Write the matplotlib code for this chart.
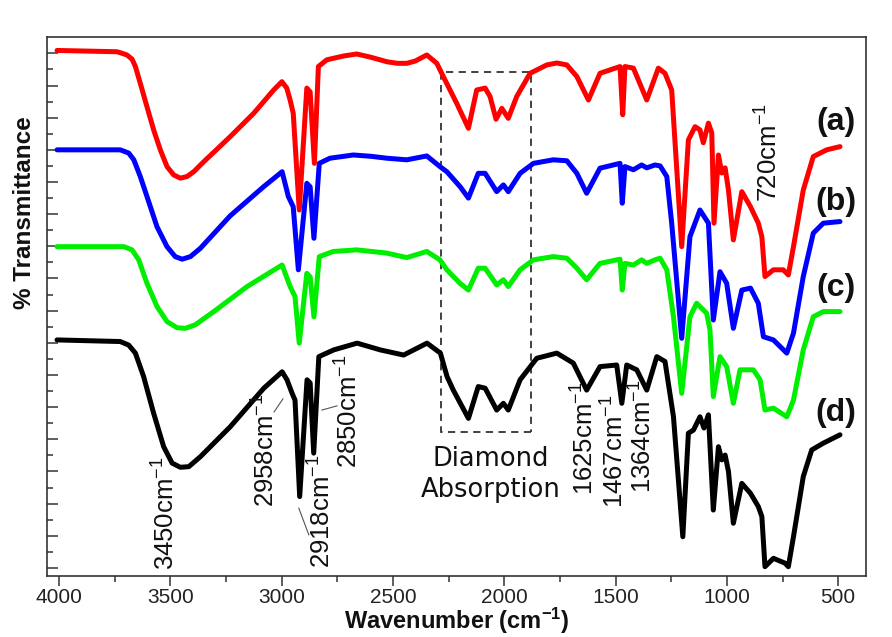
import matplotlib
matplotlib.use("Agg")
import matplotlib.pyplot as plt
from matplotlib.ticker import MultipleLocator, FixedLocator, NullFormatter
from matplotlib.patches import Rectangle

plt.rcParams['font.family'] = ['Liberation Sans', 'DejaVu Sans']
plt.rcParams['mathtext.fontset'] = 'custom'
plt.rcParams['mathtext.rm'] = 'Liberation Sans'
plt.rcParams['mathtext.it'] = 'Liberation Sans:italic'
plt.rcParams['mathtext.bf'] = 'Liberation Sans:bold'

# ---- FTIR spectra (wavenumber in cm-1, stacked transmittance, arbitrary units) ----
wn_a = [4009, 3740, 3725, 3695, 3672, 3657, 3635, 3605, 3575, 3545, 3515, 3485, 3455, 3425, 3395,
        3350, 3231, 3125, 3036, 3006, 2999, 2977, 2962, 2948, 2921, 2887, 2872, 2853, 2835, 2797,
        2720, 2663, 2600, 2528, 2480, 2438, 2400, 2348, 2303, 2274, 2214, 2161, 2124, 2086, 2064,
        2037, 2011, 1982, 1944, 1884, 1809, 1764, 1719, 1674, 1622, 1570, 1480, 1468, 1458, 1420,
        1360, 1308, 1278, 1248, 1203, 1173, 1143, 1121, 1106, 1083, 1068, 1058, 1038, 1023, 1008,
        993, 971, 933, 894, 859, 843, 829, 791, 747, 724, 701, 657, 612, 552, 492]
t_a = [160.9, 160.5, 160.2, 159.5, 158.2, 155.9, 150.7, 143.4, 136.2, 130.0, 124.8, 122.2, 121.2,
       121.7, 123.2, 126.3, 134.1, 141.4, 148.6, 150.7, 151.2, 149.2, 145.5, 141.4, 111.3, 149.2,
       148.0, 125.8, 155.9, 158.0, 159.2, 159.8, 158.8, 157.4, 156.9, 156.9, 157.6, 159.5, 156.9,
       152.8, 144.5, 136.7, 148.6, 149.2, 146.6, 139.5, 142.9, 139.8, 146.6, 153.8, 156.4, 157.0,
       156.4, 152.8, 145.5, 153.8, 155.9, 140.9, 155.9, 155.4, 145.5, 155.4, 153.8, 148.6, 99.9,
       133.1, 137.2, 136.2, 132.2, 138.3, 135.3, 107.2, 128.4, 122.8, 124.4, 117.5, 102.0, 117.0,
       112.3, 107.2, 103.0, 90.6, 92.7, 92.7, 91.1, 99.9, 117.5, 127.9, 130.0, 131.0]

wn_b = [4009, 3725, 3687, 3664, 3635, 3605, 3560, 3515, 3478, 3447, 3410, 3365, 3231, 3080, 2998,
        2970, 2948, 2925, 2887, 2872, 2855, 2831, 2783, 2720, 2678, 2600, 2528, 2438, 2348, 2289,
        2258, 2199, 2161, 2117, 2086, 2034, 2004, 1982, 1929, 1869, 1780, 1719, 1674, 1630, 1570,
        1480, 1470, 1458, 1420, 1383, 1360, 1323, 1300, 1270, 1248, 1203, 1166, 1121, 1083, 1061,
        1031, 1001, 971, 933, 894, 859, 836, 791, 731, 701, 657, 612, 567, 492]
t_b = [130.0, 130.0, 129.0, 126.9, 121.7, 115.5, 106.1, 99.9, 96.8, 96.0, 96.8, 99.4, 109.5, 118.6,
       123.2, 115.5, 112.3, 92.7, 119.6, 118.5, 102.5, 125.8, 127.4, 128.0, 128.4, 128.0, 127.4,
       126.9, 128.1, 124.8, 123.2, 118.6, 115.0, 122.7, 122.7, 117.0, 119.1, 117.0, 122.7, 125.8,
       126.9, 126.6, 122.7, 116.5, 124.3, 125.8, 113.4, 124.8, 123.8, 125.3, 124.4, 125.3, 125.0,
       121.7, 107.2, 71.4, 103.0, 111.3, 107.2, 77.1, 92.1, 88.5, 74.5, 86.4, 87.0, 82.3, 71.9,
       70.9, 66.8, 73.0, 90.6, 104.1, 107.2, 107.7]

wn_c = [4009, 3709, 3672, 3642, 3605, 3560, 3515, 3470, 3433, 3388, 3305, 3155, 2998, 2962, 2940,
        2921, 2887, 2872, 2855, 2831, 2768, 2663, 2528, 2438, 2348, 2289, 2258, 2199, 2161, 2117,
        2086, 2034, 2004, 1982, 1929, 1869, 1780, 1719, 1674, 1630, 1570, 1480, 1470, 1458, 1420,
        1383, 1360, 1323, 1300, 1270, 1240, 1203, 1166, 1136, 1091, 1076, 1061, 1031, 1001, 971,
        941, 881, 851, 829, 791, 731, 701, 657, 612, 567, 492]
t_c = [99.9, 99.9, 98.9, 95.8, 88.5, 81.3, 76.6, 74.7, 74.5, 75.6, 79.7, 87.5, 94.2, 87.5, 84.4,
       69.9, 91.6, 90.5, 78.1, 96.8, 98.4, 98.9, 97.9, 96.5, 98.4, 95.8, 92.7, 88.5, 86.4, 93.2,
       93.2, 88.0, 89.6, 87.5, 92.7, 95.8, 96.8, 96.3, 93.2, 89.6, 94.7, 96.0, 86.4, 94.7, 94.2,
       95.8, 94.7, 95.8, 96.3, 92.7, 78.1, 54.3, 78.1, 82.3, 79.2, 74.0, 53.3, 65.7, 62.6, 51.2,
       61.6, 61.6, 58.5, 49.1, 49.7, 47.0, 52.2, 67.8, 78.1, 79.7, 79.7]

wn_d = [4009, 3725, 3687, 3657, 3620, 3575, 3530, 3492, 3455, 3417, 3365, 3231, 3080, 2998, 2976,
        2953, 2940, 2919, 2886, 2872, 2856, 2833, 2766, 2661, 2557, 2452, 2347, 2287, 2257, 2229,
        2161, 2117, 2086, 2034, 2004, 1982, 1929, 1854, 1764, 1690, 1630, 1570, 1495, 1472, 1450,
        1405, 1360, 1315, 1278, 1240, 1198, 1173, 1150, 1121, 1103, 1083, 1061, 1038, 1023, 1008,
        993, 971, 933, 894, 859, 843, 829, 791, 739, 724, 701, 657, 619, 567, 492]
t_d = [70.9, 70.4, 69.3, 66.8, 59.5, 48.1, 37.7, 32.6, 31.3, 31.5, 34.6, 43.9, 55.9, 61.0, 58.5,
       54.3, 52.2, 22.2, 58.5, 57.5, 35.7, 65.7, 67.8, 69.9, 67.8, 66.2, 69.9, 66.8, 59.5, 55.3,
       46.5, 56.4, 55.9, 49.1, 51.2, 49.1, 58.5, 65.2, 66.8, 63.7, 55.3, 62.6, 63.1, 51.2, 63.1,
       61.6, 55.3, 65.7, 64.2, 47.0, 9.7, 41.9, 42.9, 47.0, 43.5, 47.6, 18.0, 37.7, 33.6, 35.1,
       30.0, 13.9, 26.3, 23.2, 19.1, 16.0, 0.4, 3.0, 1.5, 0.4, 9.7, 28.4, 36.7, 38.8, 41.4]

series_names = ['(a)', '(b)', '(c)', '(d)']
series_colors = ['#ff0000', '#0000ff', '#00ee00', '#000000']
name_pos = [(510, 138.7), (510, 113.8), (510, 87.1), (510, 48.2)]

# peak assignments: text, label x (cm-1), label bottom y
peak_labels = [('3450', 3519, -0.6), ('2958', 3070, 19.0), ('2918', 2819, 0.0),
               ('2850', 2697, 31.1), ('1625', 1637, 22.7), ('1467', 1503, 18.7),
               ('1364', 1377, 23.3), ('720', 812, 113.8)]
# thin leader lines from labels to bands
leaders = [((3034, 48.5), (2994, 52.6)), ((2923, 18.6), (2878, 10.3)),
           ((2819, 49.1), (2751, 50.4))]

# diamond window region
diamond_x = (1880, 2284)
diamond_y = (42.3, 154.2)

x_major = [4000, 3500, 3000, 2500, 2000, 1500, 1000, 500]

fig = plt.figure(figsize=(8.92, 6.37), dpi=100)
ax = fig.add_axes([0.0527, 0.0958, 0.9182, 0.8462])

spectra = [(wn_a, t_a), (wn_b, t_b), (wn_c, t_c), (wn_d, t_d)]
for i, ((w, t), col) in enumerate(zip(spectra, series_colors)):
    ax.plot(w, t, color=col, lw=3.6, solid_joinstyle='round', solid_capstyle='round',
            zorder=6 - i)

for name, (x, y) in zip(series_names, name_pos):
    ax.text(x, y, name, fontsize=23, fontweight='bold', ha='center', va='center',
            color='#111111', zorder=8)

for txt, x, y in peak_labels:
    ax.text(x, y, txt + r'cm$^{\mathregular{-1}}$', rotation=90, fontsize=18.5,
            ha='center', va='bottom', color='#111111', zorder=8)

for (x0, y0), (x1, y1) in leaders:
    ax.plot([x0, x1], [y0, y1], color='#555555', lw=0.8, zorder=7)

rect = Rectangle((diamond_x[0], diamond_y[0]), diamond_x[1] - diamond_x[0],
                 diamond_y[1] - diamond_y[0], fill=False, edgecolor='#333333',
                 lw=1.3, ls=(0, (4, 3)), zorder=1)
ax.add_patch(rect)
ax.text(2059, 29.2, 'Diamond\nAbsorption', fontsize=18.5, family='DejaVu Sans',
        ha='center', va='center', linespacing=1.25, color='#111111')

ax.set_xlim(4054, 375)
ax.set_ylim(-2.49, 165.1)

ax.xaxis.set_major_locator(FixedLocator(x_major))
ax.xaxis.set_minor_locator(MultipleLocator(250))
ax.yaxis.set_major_locator(FixedLocator(list(range(0, 161, 10))))
ax.yaxis.set_minor_locator(FixedLocator(list(range(5, 160, 10))))
ax.yaxis.set_major_formatter(NullFormatter())

ax.tick_params(axis='x', which='major', direction='out', length=7.5, width=1.1,
               color='#333333', labelsize=15, labelcolor='#222222', pad=1.5, top=False)
ax.tick_params(axis='x', which='minor', direction='out', length=4, width=1.1,
               color='#333333', top=False)
ax.tick_params(axis='y', which='major', direction='in', length=8, width=1.1,
               color='#333333', right=False)
ax.tick_params(axis='y', which='minor', direction='in', length=4, width=1.1,
               color='#333333', right=False)

for sp in ax.spines.values():
    sp.set_color('#333333')
    sp.set_linewidth(1.2)

ax.set_xlabel(r'Wavenumber (cm$^{\mathregular{-1}}$)', fontsize=17, fontweight='bold',
              va='center', color='#111111')
ax.xaxis.set_label_coords(0.5, -0.083)
ax.set_ylabel('% Transmittance', fontsize=17.5, fontweight='bold', va='center',
              ha='center', color='#111111')
ax.yaxis.set_label_coords(-0.027, 0.675)

fig.savefig('out.png', dpi=100, facecolor='white')
